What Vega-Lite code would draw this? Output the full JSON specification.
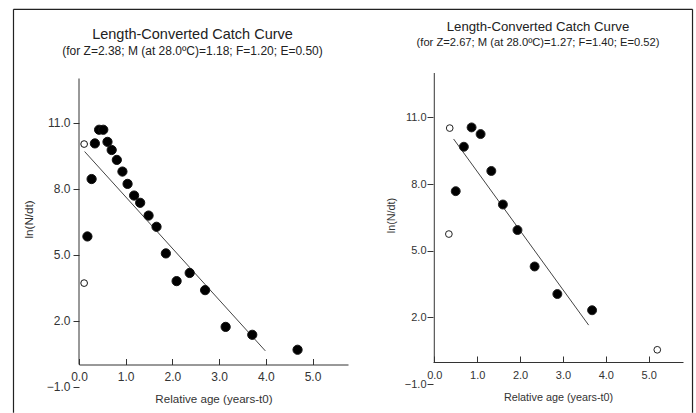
{
  "$schema": "https://vega.github.io/schema/vega-lite/v6.json",
  "background": "white",
  "padding": {"left": 12, "top": 8, "right": 4, "bottom": 0},
  "bounds": "flush",
  "spacing": 85,
  "datasets": {
    "left": [
      {"age": 0.11, "lnN": 10.02, "kind": "open"},
      {"age": 0.11, "lnN": 3.70, "kind": "open"},
      {"age": 0.18, "lnN": 5.82, "kind": "filled"},
      {"age": 0.27, "lnN": 8.43, "kind": "filled"},
      {"age": 0.34, "lnN": 10.05, "kind": "filled"},
      {"age": 0.43, "lnN": 10.67, "kind": "filled"},
      {"age": 0.52, "lnN": 10.67, "kind": "filled"},
      {"age": 0.61, "lnN": 10.12, "kind": "filled"},
      {"age": 0.70, "lnN": 9.75, "kind": "filled"},
      {"age": 0.81, "lnN": 9.30, "kind": "filled"},
      {"age": 0.93, "lnN": 8.77, "kind": "filled"},
      {"age": 1.04, "lnN": 8.21, "kind": "filled"},
      {"age": 1.18, "lnN": 7.68, "kind": "filled"},
      {"age": 1.31, "lnN": 7.35, "kind": "filled"},
      {"age": 1.49, "lnN": 6.77, "kind": "filled"},
      {"age": 1.66, "lnN": 6.26, "kind": "filled"},
      {"age": 1.86, "lnN": 5.05, "kind": "filled"},
      {"age": 2.09, "lnN": 3.79, "kind": "filled"},
      {"age": 2.37, "lnN": 4.16, "kind": "filled"},
      {"age": 2.70, "lnN": 3.38, "kind": "filled"},
      {"age": 3.14, "lnN": 1.71, "kind": "filled"},
      {"age": 3.71, "lnN": 1.35, "kind": "filled"},
      {"age": 4.68, "lnN": 0.67, "kind": "filled"}
    ],
    "leftLine": [
      {"age": 0.12, "lnN": 9.68},
      {"age": 3.99, "lnN": 0.62}
    ],
    "right": [
      {"age": 0.36, "lnN": 10.52, "kind": "open"},
      {"age": 0.34, "lnN": 5.75, "kind": "open"},
      {"age": 5.20, "lnN": 0.54, "kind": "open"},
      {"age": 0.50, "lnN": 7.68, "kind": "filled"},
      {"age": 0.69, "lnN": 9.68, "kind": "filled"},
      {"age": 0.87, "lnN": 10.55, "kind": "filled"},
      {"age": 1.08, "lnN": 10.25, "kind": "filled"},
      {"age": 1.33, "lnN": 8.59, "kind": "filled"},
      {"age": 1.60, "lnN": 7.08, "kind": "filled"},
      {"age": 1.94, "lnN": 5.93, "kind": "filled"},
      {"age": 2.34, "lnN": 4.29, "kind": "filled"},
      {"age": 2.87, "lnN": 3.05, "kind": "filled"},
      {"age": 3.68, "lnN": 2.32, "kind": "filled"}
    ],
    "rightLine": [
      {"age": 0.45, "lnN": 10.03},
      {"age": 3.60, "lnN": 1.65}
    ],
    "one": [{}]
  },
  "hconcat": [
    {
      "width": 269,
      "height": 313.5,
      "title": {
        "text": "Length-Converted Catch Curve",
        "subtitle": "(for Z=2.38; M (at 28.0ºC)=1.18; F=1.20; E=0.50)",
        "fontSize": 14.5,
        "subtitleFontSize": 12,
        "anchor": "middle",
        "frame": "group",
        "offset": -49,
        "dx": -21,
        "subtitlePadding": 3
      },
      "layer": [
        {
          "data": {"name": "one"},
          "mark": {"type": "rule", "clip": false, "color": "#222", "strokeWidth": 1.2},
          "encoding": {
            "x": {"datum": -1.4026, "type": "quantitative", "scale": {"domain": [0, 5.76], "nice": false, "zero": false}},
            "x2": {"datum": 13.137},
            "y": {"datum": 16.145, "type": "quantitative", "scale": {"domain": [-1, 13.25], "nice": false, "zero": false}}
          }
        },
        {
          "data": {"name": "one"},
          "mark": {"type": "rule", "clip": false, "color": "#222", "strokeWidth": 1.2},
          "encoding": {
            "x": {"datum": -1.4026, "type": "quantitative", "scale": {"domain": [0, 5.76], "nice": false, "zero": false}},
            "y": {"datum": 16.145, "type": "quantitative", "scale": {"domain": [-1, 13.25], "nice": false, "zero": false}},
            "y2": {"datum": -2.195}
          }
        },
        {
          "data": {"name": "one"},
          "mark": {"type": "rule", "clip": false, "color": "#222", "strokeWidth": 1.2},
          "encoding": {
            "x": {"datum": 13.137, "type": "quantitative", "scale": {"domain": [0, 5.76], "nice": false, "zero": false}},
            "y": {"datum": 16.145, "type": "quantitative", "scale": {"domain": [-1, 13.25], "nice": false, "zero": false}},
            "y2": {"datum": -2.195}
          }
        },
        {
          "data": {"name": "one"},
          "mark": {"type": "rule", "color": "#333", "strokeWidth": 1},
          "encoding": {
            "x": {"datum": 0, "type": "quantitative", "scale": {"domain": [0, 5.76], "nice": false, "zero": false}},
            "y": {"datum": 0, "type": "quantitative", "scale": {"domain": [-1, 13.25], "nice": false, "zero": false}},
            "y2": {"datum": 13}
          }
        },
        {
          "data": {"name": "leftLine"},
          "mark": {"type": "line", "color": "#444", "strokeWidth": 1},
          "encoding": {
            "x": {"field": "age", "type": "quantitative", "scale": {"domain": [0, 5.76], "nice": false, "zero": false}},
            "y": {"field": "lnN", "type": "quantitative", "scale": {"domain": [-1, 13.25], "nice": false, "zero": false}}
          }
        },
        {
          "data": {"name": "left"},
          "mark": {"type": "point", "shape": "circle", "filled": false, "stroke": "#111", "strokeWidth": 1, "opacity": 1},
          "encoding": {
            "x": {"field": "age", "type": "quantitative", "scale": {"domain": [0, 5.76], "nice": false, "zero": false},
              "axis": {"values": [0, 1, 2, 3, 4, 5], "format": ".1f", "title": "Relative age (years-t0)", "offset": -22, "tickSize": -6, "labelPadding": 13, "labelFlush": false, "titlePadding": 11, "labelFontSize": 12, "titleFontSize": 11.6}},
            "y": {"field": "lnN", "type": "quantitative", "scale": {"domain": [-1, 13.25], "nice": false, "zero": false},
              "axis": {"values": [-1, 2, 5, 8, 11], "format": ".1f", "title": "ln(N/dt)", "domain": false, "tickSize": 6, "labelPadding": 3, "titlePadding": 12, "titleY": 146, "labelFontSize": 12, "titleFontSize": 11.6}},
            "fill": {"field": "kind", "type": "nominal", "scale": {"domain": ["filled", "open"], "range": ["#000000", "#ffffff"]}, "legend": null},
            "size": {"field": "kind", "type": "nominal", "scale": {"domain": ["filled", "open"], "range": [85, 45]}, "legend": null}
          }
        }
      ]
    },
    {
      "width": 250,
      "height": 311,
      "title": {
        "text": "Length-Converted Catch Curve",
        "subtitle": "(for Z=2.67; M (at 28.0ºC)=1.27; F=1.40; E=0.52)",
        "fontSize": 13.2,
        "subtitleFontSize": 11.2,
        "anchor": "middle",
        "frame": "group",
        "offset": 23,
        "dx": -20,
        "subtitlePadding": 3
      },
      "layer": [
        {
          "data": {"name": "one"},
          "mark": {"type": "rule", "color": "#333", "strokeWidth": 1},
          "encoding": {
            "x": {"datum": 0, "type": "quantitative", "scale": {"domain": [-0.03, 5.8], "nice": false, "zero": false}},
            "y": {"datum": 0, "type": "quantitative", "scale": {"domain": [-1, 13], "nice": false, "zero": false}},
            "y2": {"datum": 13}
          }
        },
        {
          "data": {"name": "rightLine"},
          "mark": {"type": "line", "color": "#444", "strokeWidth": 1},
          "encoding": {
            "x": {"field": "age", "type": "quantitative", "scale": {"domain": [-0.03, 5.8], "nice": false, "zero": false}},
            "y": {"field": "lnN", "type": "quantitative", "scale": {"domain": [-1, 13], "nice": false, "zero": false}}
          }
        },
        {
          "data": {"name": "right"},
          "mark": {"type": "point", "shape": "circle", "filled": false, "stroke": "#222", "strokeWidth": 1, "opacity": 1},
          "encoding": {
            "x": {"field": "age", "type": "quantitative", "scale": {"domain": [-0.03, 5.8], "nice": false, "zero": false},
              "axis": {"values": [0, 1, 2, 3, 4, 5], "format": ".1f", "title": "Relative age (years-t0)", "offset": -22, "tickSize": -6, "labelPadding": 13, "labelFlush": false, "titlePadding": 11, "labelFontSize": 11, "titleFontSize": 10.8}},
            "y": {"field": "lnN", "type": "quantitative", "scale": {"domain": [-1, 13], "nice": false, "zero": false},
              "axis": {"values": [-1, 2, 5, 8, 11], "format": ".1f", "title": "ln(N/dt)", "domain": false, "tickSize": 6, "labelPadding": 1, "titlePadding": 8, "titleY": 142, "labelFontSize": 11, "titleFontSize": 10.8}},
            "fill": {"field": "kind", "type": "nominal", "scale": {"domain": ["filled", "open"], "range": ["#000000", "#ffffff"]}, "legend": null},
            "size": {"field": "kind", "type": "nominal", "scale": {"domain": ["filled", "open"], "range": [80, 45]}, "legend": null}
          }
        }
      ],
      "resolve": {"scale": {"fill": "independent", "size": "independent"}}
    }
  ],
  "resolve": {"scale": {"x": "independent", "y": "independent", "fill": "independent", "size": "independent"}},
  "config": {
    "view": {"stroke": null},
    "font": "Liberation Sans",
    "axis": {
      "grid": false,
      "domainColor": "#333",
      "tickColor": "#333",
      "labelColor": "#333",
      "titleColor": "#333",
      "labelFont": "Liberation Sans",
      "titleFont": "Liberation Sans",
      "titleFontWeight": "normal"
    },
    "title": {
      "font": "Liberation Sans",
      "subtitleFont": "Liberation Sans",
      "fontWeight": "normal",
      "color": "#222",
      "subtitleColor": "#222"
    }
  }
}
